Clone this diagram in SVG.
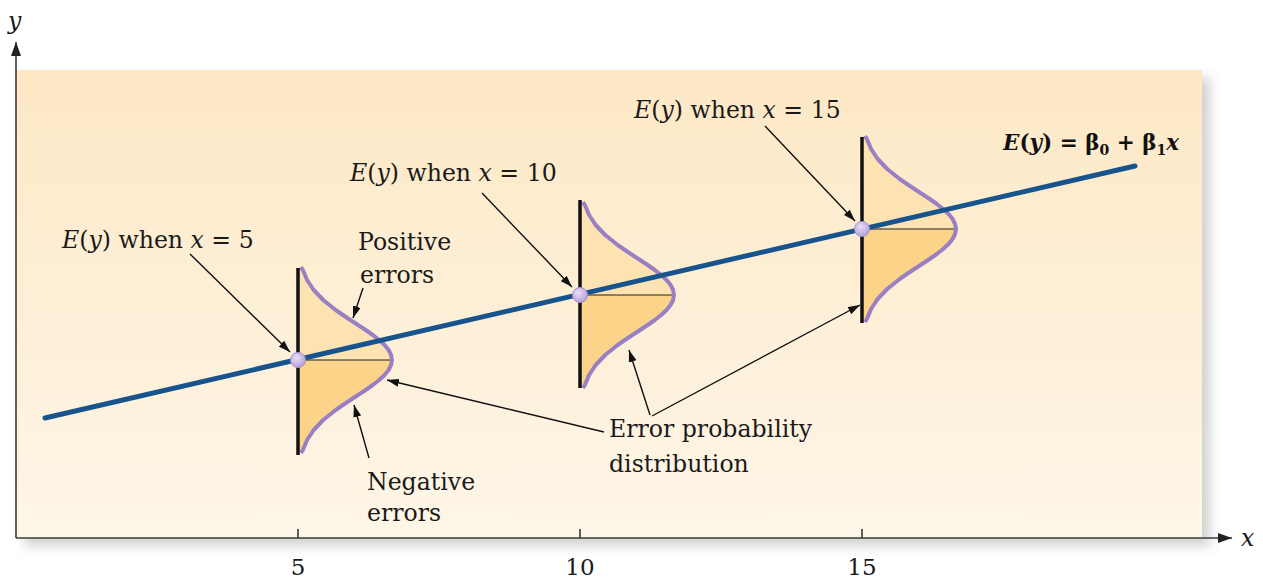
<svg xmlns="http://www.w3.org/2000/svg" xmlns:xlink="http://www.w3.org/1999/xlink" width="1263" height="578" viewBox="0 0 1263 578">
<style>
.lbl{font-family:"DejaVu Serif","Liberation Serif",serif;font-size:23.6px;fill:#1a1a1a}
.it{font-style:italic}
.eq{font-family:"DejaVu Serif","Liberation Serif",serif;font-size:21.5px;font-weight:bold;fill:#111}
.tick{font-family:"DejaVu Serif","Liberation Serif",serif;font-size:23px;fill:#1a1a1a}
.arr{stroke:#111;stroke-width:1.4;fill:none;marker-end:url(#ah)}
.axis{stroke:#3a3a3a;stroke-width:1.6;fill:none}
.vline{stroke:#111;stroke-width:3.5}
.mid{stroke:#222;stroke-width:1}
.curve{fill:none;stroke:#9a80c2;stroke-width:4;stroke-linejoin:round}
.up{fill:#fde3b2}
.lo{fill:#fbd389}
.pt{fill:url(#pg);stroke:#a58fcb;stroke-width:1}
</style>
<defs>
<linearGradient id="bg" x1="0" y1="0" x2="0" y2="1">
<stop offset="0" stop-color="#fde8c5"/>
<stop offset="1" stop-color="#fef6e8"/>
</linearGradient>
<radialGradient id="pg" cx="0.4" cy="0.35" r="0.7">
<stop offset="0" stop-color="#e9def5"/>
<stop offset="1" stop-color="#b39cd6"/>
</radialGradient>
<filter id="sh" x="-5%" y="-5%" width="110%" height="115%">
<feGaussianBlur stdDeviation="6"/>
</filter>
<marker id="ah" viewBox="0 0 12 8" refX="12" refY="4" markerWidth="12" markerHeight="8" markerUnits="userSpaceOnUse" orient="auto">
<path d="M0,0 L12,4 L0,8 Z" fill="#111"/>
</marker>
<marker id="axh" viewBox="0 0 14 10" refX="14" refY="5" markerWidth="14" markerHeight="10" markerUnits="userSpaceOnUse" orient="auto">
<path d="M0,0 L14,5 L0,10 Z" fill="#222"/>
</marker>
<path id="upper" d="M0,-93 L4,-93 L4.9,-90 L9.1,-80 L15.7,-70 L25.2,-60 L37.7,-50 L44.9,-45 L52.4,-40 L60.1,-35 L67.7,-30 L74.8,-25 L81.2,-20 L86.6,-15 L90.6,-10 L93.1,-5 L94,0 L0,0 Z"/>
<path id="lower" d="M0,93 L4,93 L4.9,90 L9.1,80 L15.7,70 L25.2,60 L37.7,50 L44.9,45 L52.4,40 L60.1,35 L67.7,30 L74.8,25 L81.2,20 L86.6,15 L90.6,10 L93.1,5 L94,0 L0,0 Z"/>
<path id="bell" d="M3,-93 C4,-91 4.9,-90 4.9,-90 L9.1,-80 L15.7,-70 L25.2,-60 L37.7,-50 L44.9,-45 L52.4,-40 L60.1,-35 L67.7,-30 L74.8,-25 L81.2,-20 L86.6,-15 L90.6,-10 L93.1,-5 L94,0 L93.1,5 L90.6,10 L86.6,15 L81.2,20 L74.8,25 L67.7,30 L60.1,35 L52.4,40 L44.9,45 L37.7,50 L25.2,60 L15.7,70 L9.1,80 L4.9,90 L3,93"/>
</defs>

<g id="panel">
<rect x="24" y="78" width="1186" height="468" fill="#9a9a9a" opacity="0.45" filter="url(#sh)"/>
<rect x="16" y="70" width="1186" height="468" fill="url(#bg)"/>
</g>

<g id="axes">
<line class="axis" x1="16" y1="538" x2="16" y2="42" marker-end="url(#axh)"/>
<line class="axis" x1="16" y1="538" x2="1232" y2="538" marker-end="url(#axh)"/>
<line class="axis" x1="298" y1="529" x2="298" y2="538"/>
<line class="axis" x1="580" y1="529" x2="580" y2="538"/>
<line class="axis" x1="862" y1="529" x2="862" y2="538"/>
<text class="lbl it" x="8" y="29" font-size="25">y</text>
<text class="lbl it" x="1241" y="546" font-size="25">x</text>
<text class="tick" x="298" y="575" text-anchor="middle">5</text>
<text class="tick" x="580" y="575" text-anchor="middle">10</text>
<text class="tick" x="862" y="575" text-anchor="middle">15</text>
</g>

<g id="dist5" transform="translate(298,360)">
<use xlink:href="#upper" class="up"/>
<use xlink:href="#lower" class="lo"/>
<line class="mid" x1="0" y1="0" x2="94" y2="0"/>
<use xlink:href="#bell" class="curve"/>
<line class="vline" x1="0" y1="-92" x2="0" y2="95"/>
</g>
<g id="dist10" transform="translate(580,295)">
<use xlink:href="#upper" class="up"/>
<use xlink:href="#lower" class="lo"/>
<line class="mid" x1="0" y1="0" x2="94" y2="0"/>
<use xlink:href="#bell" class="curve"/>
<line class="vline" x1="0" y1="-95" x2="0" y2="93"/>
</g>
<g id="dist15" transform="translate(862,229)">
<use xlink:href="#upper" class="up"/>
<use xlink:href="#lower" class="lo"/>
<line class="mid" x1="0" y1="0" x2="94" y2="0"/>
<use xlink:href="#bell" class="curve"/>
<line class="vline" x1="0" y1="-92" x2="0" y2="94"/>
</g>

<g id="regression-line">
<line x1="45" y1="418" x2="1135" y2="166" stroke="#17538c" stroke-width="5" stroke-linecap="round"/>
</g>

<g id="points">
<circle class="pt" cx="298" cy="360" r="7.5"/>
<circle class="pt" cx="580" cy="295" r="7.5"/>
<circle class="pt" cx="862" cy="229" r="7.5"/>
</g>

<g id="connectors">
<line class="arr" x1="190" y1="254" x2="290" y2="352"/>
<line class="arr" x1="482" y1="193" x2="572" y2="287"/>
<line class="arr" x1="765" y1="126" x2="855" y2="221"/>
<line class="arr" x1="363" y1="288" x2="353" y2="318"/>
<line class="arr" x1="369" y1="458" x2="354" y2="405"/>
<line class="arr" x1="604" y1="432" x2="387" y2="380"/>
<line class="arr" x1="650" y1="415" x2="629" y2="350"/>
<line class="arr" x1="652" y1="416" x2="860" y2="305"/>
</g>

<g id="label-eq">
<text class="eq" x="1003" y="150"><tspan font-style="italic">E</tspan>(<tspan font-style="italic">y</tspan>) = β<tspan font-size="14" dy="5">0</tspan><tspan dy="-5"> + β</tspan><tspan font-size="14" dy="5">1</tspan><tspan dy="-5" font-style="italic">x</tspan></text>
</g>
<g id="label-ey5">
<text class="lbl" x="62" y="248"><tspan class="it">E</tspan>(<tspan class="it">y</tspan>) when <tspan class="it">x</tspan> = 5</text>
</g>
<g id="label-ey10">
<text class="lbl" x="350" y="181"><tspan class="it">E</tspan>(<tspan class="it">y</tspan>) when <tspan class="it">x</tspan> = 10</text>
</g>
<g id="label-ey15">
<text class="lbl" x="634" y="118"><tspan class="it">E</tspan>(<tspan class="it">y</tspan>) when <tspan class="it">x</tspan> = 15</text>
</g>
<g id="label-positive">
<text class="lbl" x="358" y="250">Positive</text>
<text class="lbl" x="360" y="283">errors</text>
</g>
<g id="label-negative">
<text class="lbl" x="367" y="490">Negative</text>
<text class="lbl" x="367" y="521">errors</text>
</g>
<g id="label-error-dist">
<text class="lbl" x="609" y="437">Error probability</text>
<text class="lbl" x="609" y="472">distribution</text>
</g>
</svg>
